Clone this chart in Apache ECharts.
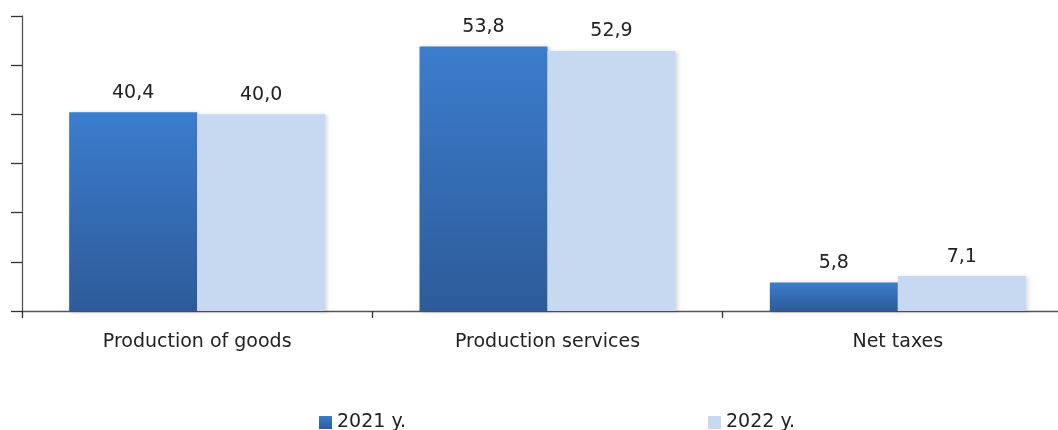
<!DOCTYPE html>
<html>
<head>
<meta charset="utf-8">
<script src="https://cdn.jsdelivr.net/npm/echarts@6/dist/echarts.min.js"></script>
<style>
html,body{margin:0;padding:0;background:#fff;}
#c{width:1058px;height:430px;}
</style>
</head>
<body>
<div id="c"></div>
<script>
const categories = ['Production of goods', 'Production services', 'Net taxes'];
const seriesNames = ['2021 y.', '2022 y.'];
const values2021 = [40.4, 53.8, 5.8];
const values2022 = [40.0, 52.9, 7.1];

const chart = echarts.init(document.getElementById('c'));
const font = 'DejaVu Sans';
const fmt = p => p.value.toFixed(1).replace('.', ',');

chart.setOption({
  animation: false,
  backgroundColor: '#ffffff',
  textStyle: { fontFamily: font },
  grid: { left: 22, top: 16, width: 1051, height: 295, outerBoundsMode: 'none', containLabel: false },
  legend: [
    { data: [seriesNames[0]], left: 314, top: 408, icon: 'rect', itemWidth: 13, itemHeight: 13, itemGap: 6,
      textStyle: { fontFamily: font, fontSize: 19, color: '#222' } },
    { data: [seriesNames[1]], left: 703, top: 408, icon: 'rect', itemWidth: 13, itemHeight: 13, itemGap: 6,
      textStyle: { fontFamily: font, fontSize: 19, color: '#222' } }
  ],
  xAxis: {
    type: 'category',
    data: categories,
    axisLine: { lineStyle: { color: '#555', width: 1.3 } },
    axisTick: { show: true, length: 7, lineStyle: { color: '#333', width: 1.3 } },
    axisLabel: { fontFamily: font, fontSize: 19, color: '#222', margin: 22 }
  },
  yAxis: {
    type: 'value',
    min: 0, max: 60, interval: 10,
    axisLine: { show: true, lineStyle: { color: '#555', width: 1.3 } },
    axisTick: { show: true, length: 11, lineStyle: { color: '#333', width: 1.3 } },
    axisLabel: { show: false },
    splitLine: { show: false }
  },
  series: [
    {
      name: seriesNames[0], type: 'bar', data: values2021,
      barWidth: 128, barGap: '0%',
      itemStyle: {
        color: new echarts.graphic.LinearGradient(0, 0, 0, 1, [
          { offset: 0, color: '#3b7dcd' },
          { offset: 1, color: '#2d5b99' }
        ]),
        shadowColor: 'rgba(0,0,0,0.18)', shadowBlur: 4, shadowOffsetX: 2, shadowOffsetY: 1
      },
      label: { show: true, position: 'top', distance: 10, formatter: fmt,
        fontFamily: font, fontSize: 19, color: '#222' }
    },
    {
      name: seriesNames[1], type: 'bar', data: values2022,
      barWidth: 128,
      itemStyle: {
        color: '#c6d9f0',
        shadowColor: 'rgba(0,0,0,0.15)', shadowBlur: 4, shadowOffsetX: 2, shadowOffsetY: 1
      },
      label: { show: true, position: 'top', distance: 10, formatter: fmt,
        fontFamily: font, fontSize: 19, color: '#222' }
    }
  ]
});
</script>
</body>
</html>
